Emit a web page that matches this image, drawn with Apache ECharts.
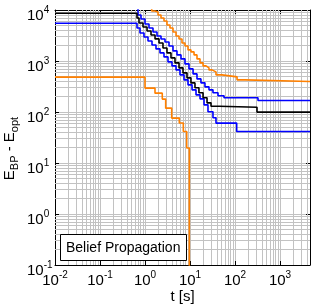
<!DOCTYPE html>
<html>
<head>
<meta charset="utf-8">
<script src="https://cdn.jsdelivr.net/npm/echarts@6/dist/echarts.min.js"></script>
<style>
html,body{margin:0;padding:0;background:#fff;}
#chart{width:312px;height:305px;}
</style>
</head>
<body>
<div id="chart"></div>
<script>
// ---- data ----
const xTickLabels = ['-2', '-1', '0', '1', '2', '3'];   // exponents for 10^k, k = -2..3
const yTickLabels = ['-1', '0', '1', '2', '3', '4'];    // exponents for 10^k, k = -1..4

const blackT = [0.01, 0.664, 0.736, 0.903, 1.11, 1.36, 1.67, 2.05, 2.51, 3.08, 3.78, 4.64, 5.70, 6.99, 8.58, 10.5, 12.9, 15.8, 19.5, 23.9, 29.3, 45, 308, 4640];
const blackE = [8610, 6970, 5570, 4650, 3880, 3240, 2710, 2260, 1800, 1440, 1150, 919, 733, 585, 467, 372, 298, 238, 190, 151, 130, 124, 99.5, 99.5];

const blueLoT = [0.01, 0.664, 0.774, 0.950, 1.166, 1.431, 1.755, 2.154, 2.643, 3.244, 3.98, 4.89, 5.99, 7.36, 9.03, 11.1, 13.6, 16.7, 20.5, 25.1, 32.4, 37.8, 109, 4640];
const blueLoE = [5500, 4450, 3550, 2965, 2475, 2065, 1725, 1440, 1203, 960, 801, 669, 535, 427, 341, 272, 217, 181, 138, 101, 77, 60.6, 41.5, 41.5];

const blueHiT = [0.01, 0.699, 0.815, 1.0, 1.227, 1.505, 1.848, 2.268, 2.783, 3.415, 4.19, 5.14, 6.31, 7.74, 9.50, 11.7, 14.3, 17.5, 21.5, 26.4, 32.4, 41.9, 57.0, 324, 4640];
const blueHiE = [12000, 7980, 6670, 5320, 4450, 3710, 3100, 2705, 2365, 1974, 1577, 1316, 1099, 877, 700, 559, 446, 373, 311, 272, 238, 208, 190, 168, 168];

const orangeHiT = [0.01, 1.409, 1.668, 1.945, 2.268, 2.643, 3.08, 3.59, 4.19, 4.89, 5.70, 6.64, 7.74, 9.03, 10.5, 12.3, 14.3, 16.7, 19.5, 22.7, 26.4, 30.8, 37.8, 51.4, 111, 167, 4640];
const orangeHiE = [15000, 9560, 9140, 7980, 6970, 6090, 5080, 4450, 3710, 3100, 2705, 2260, 1974, 1650, 1507, 1316, 1099, 919, 801, 733, 669, 612, 535, 489, 427, 395, 395];

const orangeLoT = [0.01, 1.0, 1.668, 2.42, 2.88, 3.92, 5.78, 7.10, 8.45, 9.65];
const orangeLoE = [482, 294, 234, 179, 119, 76, 60.7, 41.5, 19.7, 1e-6];

const xMin = 0.01, xMax = 4640, yMin = 0.1, yMax = 10000;

// ---- chart ----
const FONT = 'Liberation Sans, Arial, Helvetica, sans-serif';
const zip = (t, e) => t.map((v, i) => [v, e[i]]);

// minor log grid positions (2..9 x 10^k)
const minorX = [], minorY = [];
for (let k = -2; k <= 3; k++) for (let m = 2; m <= 9; m++) { const v = m * Math.pow(10, k); if (v < xMax) minorX.push({ xAxis: v }); }
for (let k = -1; k <= 3; k++) for (let m = 2; m <= 9; m++) { minorY.push({ yAxis: m * Math.pow(10, k) }); }

const tickRich = {
  b: { fontSize: 15, lineHeight: 18, verticalAlign: 'bottom', color: '#000', fontFamily: FONT },
  p: { fontSize: 10, lineHeight: 12, verticalAlign: 'top', padding: [0, 0, 10, 0], color: '#000', fontFamily: FONT }
};
function fmt(labels, kMin) {
  return function (v) {
    const k = Math.round(Math.log10(v));
    const s = labels[k - kMin];
    return s === undefined ? '' : '{b|10}{p|' + s + '}';
  };
}

const gridLine = { show: true, lineStyle: { color: '#c2c2c2', width: 1 } };
const blackLine = { show: true, lineStyle: { color: '#000', width: 1 } };

function stepSeries(t, e, color) {
  return {
    type: 'line', step: 'end', data: zip(t, e), symbol: 'none', clip: true,
    lineStyle: { color: color, width: 1.6 }, z: 5
  };
}

const chart = echarts.init(document.getElementById('chart'), null, { renderer: 'canvas' });
chart.setOption({
  animation: false,
  backgroundColor: '#fff',
  grid: { left: 55, top: 10, width: 255, height: 255, containLabel: false, outerBoundsMode: 'none' },
  xAxis: [
    {
      type: 'log', logBase: 10, min: xMin, max: xMax, interval: 1,
      position: 'bottom',
      axisLine: blackLine,
      axisTick: { show: true, inside: true, length: 4, lineStyle: { color: '#000' } },
      axisLabel: { formatter: fmt(xTickLabels, -2), rich: tickRich, margin: 5, showMaxLabel: false },
      splitLine: gridLine,
      name: 't [s]', nameLocation: 'middle', nameGap: 24, nameMoveOverlap: false,
      nameTextStyle: { fontSize: 15, color: '#000', fontFamily: FONT }
    },
    {
      type: 'log', logBase: 10, min: xMin, max: xMax, interval: 1,
      position: 'top',
      axisLine: blackLine,
      axisTick: { show: true, inside: true, length: 4, lineStyle: { color: '#000' } },
      axisLabel: { show: false }, splitLine: { show: false }
    }
  ],
  yAxis: [
    {
      type: 'log', logBase: 10, min: yMin, max: yMax, interval: 1,
      position: 'left',
      axisLine: blackLine,
      axisTick: { show: true, inside: true, length: 4, lineStyle: { color: '#000' } },
      axisLabel: { formatter: fmt(yTickLabels, -1), rich: tickRich, margin: 28, align: 'left', padding: [8, 0, 0, 0] },
      splitLine: gridLine,
      name: '{e|E}{s|BP}{e| - E}{s|opt}', nameLocation: 'middle', nameRotate: 90, nameGap: 35, nameMoveOverlap: false,
      nameTextStyle: {
        color: '#000',
        padding: [0, 22, 0, 0],
        rich: {
          e: { fontSize: 15, lineHeight: 18, verticalAlign: 'top', color: '#000', fontFamily: FONT },
          s: { fontSize: 11, lineHeight: 12, verticalAlign: 'bottom', padding: [10, 0, 0, 0], color: '#000', fontFamily: FONT }
        }
      }
    },
    {
      type: 'log', logBase: 10, min: yMin, max: yMax, interval: 1,
      position: 'right',
      axisLine: blackLine,
      axisTick: { show: true, inside: true, length: 4, lineStyle: { color: '#000' } },
      axisLabel: { show: false }, splitLine: { show: false }
    }
  ],
  series: [
    {
      type: 'line', data: [], z: 1, silent: true,
      markLine: {
        silent: true, symbol: ['none', 'none'], label: { show: false },
        lineStyle: { color: '#c2c2c2', width: 1, type: 'solid' },
        emphasis: { disabled: true },
        data: minorX.concat(minorY)
      }
    },
    stepSeries(orangeHiT, orangeHiE, '#ff8000'),
    stepSeries(orangeLoT, orangeLoE, '#ff8000'),
    stepSeries(blueHiT, blueHiE, '#0000ff'),
    stepSeries(blueLoT, blueLoE, '#0000ff'),
    stepSeries(blackT, blackE, '#000000')
  ],
  graphic: [
    {
      type: 'rect', z: 100,
      shape: { x: 60.5, y: 234.5, width: 126, height: 26 },
      style: { fill: '#fff', stroke: '#000', lineWidth: 1 }
    },
    {
      type: 'text', z: 101, x: 66, y: 248,
      style: { text: 'Belief Propagation', font: '14px ' + FONT, fill: '#000', verticalAlign: 'middle', align: 'left' }
    }
  ]
});
</script>
</body>
</html>
